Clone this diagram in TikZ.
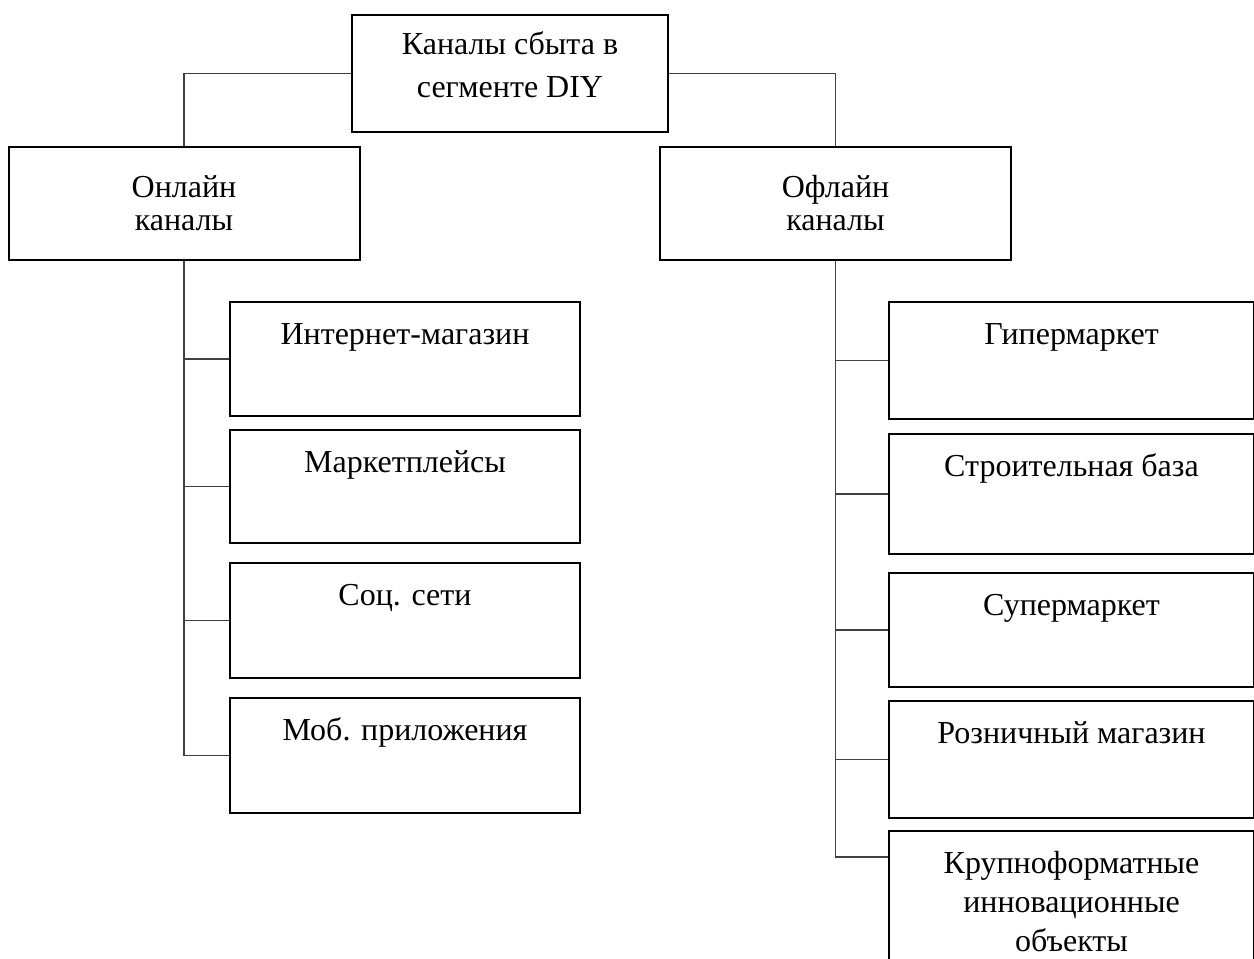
\documentclass[tikz,border=0pt]{standalone}
\usepackage{fontspec}
\setmainfont{Liberation Serif}
\begin{document}
\begin{tikzpicture}[x=0.5pt,y=-0.5pt,
  box/.style={draw=black, line width=1pt, inner sep=0pt, align=center},
  head/.style={box, anchor=north, font=\fontsize{16pt}{21.5pt}\selectfont, minimum width=158pt, text height=41pt, text depth=17.5pt},
  mid/.style={box, font=\fontsize{16pt}{16.5pt}\selectfont, minimum width=175.5pt, minimum height=56.5pt},
  leafl/.style={box, anchor=north west, font=\fontsize{16pt}{19.5pt}\selectfont, minimum width=175pt, text height=21pt, text depth=#1},
  leafr/.style={box, anchor=north west, font=\fontsize{16pt}{19.5pt}\selectfont, minimum width=182.5pt, text height=21pt, text depth=#1},
  link/.style={draw=black!75, line width=0.7pt}
]
\useasboundingbox (0,0) rectangle (1254,959);

\node[head] (top) at (510,14) {Каналы сбыта в\\сегменте DIY};
\node[mid] (on) at (184,203.5) {Онлайн\\каналы};
\node[mid] (off) at (835.5,203.5) {Офлайн\\каналы};

\node[leafl=36pt] (l1) at (229,301) {Интернет-магазин};
\node[leafl=35.5pt] (l2) at (229,429) {Маркетплейсы};
\node[leafl=36.5pt] (l3) at (229,562) {Соц. сети};
\node[leafl=36.5pt] (l4) at (229,697) {Моб. приложения};

\node[leafr=37.5pt] (r1) at (888,301) {Гипермаркет};
\node[leafr=39pt] (r2) at (888,433) {Строительная база};
\node[leafr=36pt] (r3) at (888,572) {Супермаркет};
\node[leafr=37.5pt] (r4) at (888,700) {Розничный магазин};
\node[leafr=40pt, text height=60pt] (r5) at (888,830) {Крупноформатные\\инновационные\\объекты};
\coordinate (r5in) at ([yshift=-13.5pt]r5.north west);

\draw[link] (top.west) -| (on.north);
\draw[link] (top.east) -| (off.north);

\draw[link] (on.south) |- (l4.west);
\foreach \n in {l1,l2,l3} \draw[link] (on.south |- \n.west) -- (\n.west);

\draw[link] (off.south) |- (r5in);
\foreach \n in {r1,r2,r3,r4} \draw[link] (off.south |- \n.west) -- (\n.west);
\end{tikzpicture}
\end{document}
